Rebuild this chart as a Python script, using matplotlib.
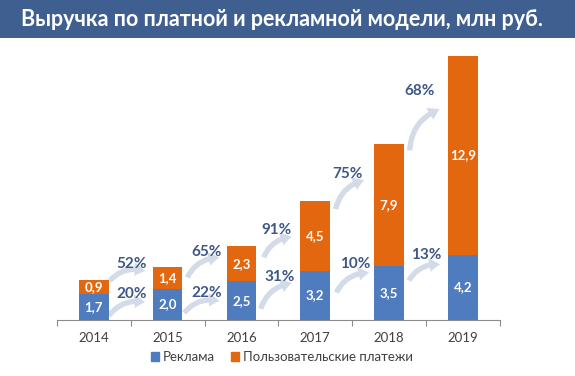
import numpy as np
import matplotlib
matplotlib.use("Agg")
import matplotlib.pyplot as plt
from matplotlib.patches import FancyArrowPatch, Rectangle, Patch

plt.rcParams['font.family'] = ['Lato', 'DejaVu Sans']

# данные
years = ['2014', '2015', '2016', '2017', '2018', '2019']
ads = [1.7, 2.0, 2.5, 3.2, 3.5, 4.2]
users = [0.9, 1.4, 2.3, 4.5, 7.9, 12.9]
ads_labels = ['1,7', '2,0', '2,5', '3,2', '3,5', '4,2']
users_labels = ['0,9', '1,4', '2,3', '4,5', '7,9', '12,9']
growth_users = ['52%', '65%', '91%', '75%', '68%']
growth_ads = ['20%', '22%', '31%', '10%', '13%']

# расположение подписей роста и стрелок (в единицах оси y)
users_lab_x = [0.51, 1.53, 2.48, 3.44, 4.42]
users_lab_y = [3.63, 4.40, 5.83, 9.45, 14.8]
users_arr = [(0.19, 2.40, 0.73, 3.11), (1.25, 2.59, 1.74, 4.02), (2.29, 3.89, 2.72, 5.38),
             (3.27, 7.00, 3.70, 9.07), (4.28, 10.8, 4.72, 13.7)]
ads_lab_x = [0.51, 1.53, 2.52, 3.54, 4.51]
ads_lab_y = [1.68, 1.75, 2.78, 3.63, 4.21]
ads_arr = [(0.18, 0.13, 0.73, 1.10), (1.20, 0.32, 1.74, 1.17), (2.25, 0.55, 2.72, 2.40),
           (3.27, 1.62, 3.77, 3.04), (4.25, 2.40, 4.73, 3.56)]

blue = '#4F7BBF'
orange = '#E2670F'
txt_blue = '#3E5787'
arrow_col = '#D3DBE8'

fig = plt.figure(figsize=(5.75, 3.76), dpi=100)

# заголовок
fig.patches.append(Rectangle((0, 0.899), 1, 0.101, transform=fig.transFigure,
                             facecolor='#3E5F8F', edgecolor='none'))
fig.text(0.036, 0.948, 'Выручка по платной и рекламной модели, млн руб.',
         color='white', fontsize=15.5, fontweight='bold', va='center', ha='left')

ax = fig.add_axes([0.099, 0.149, 0.770, 0.745])
x = np.arange(len(years))
w = 0.4
ax.bar(x, ads, w, color=blue, zorder=3)
ax.bar(x, users, w, bottom=ads, color=orange, zorder=3)

for i in range(len(years)):
    ax.text(x[i], ads[i] / 2, ads_labels[i], ha='center', va='center',
            color='white', fontsize=9.5, fontweight='bold', zorder=4)
    ax.text(x[i], ads[i] + users[i] / 2, users_labels[i], ha='center', va='center',
            color='white', fontsize=9.5, fontweight='bold', zorder=4)

for arrs in (users_arr, ads_arr):
    for (x0, y0, x1, y1) in arrs:
        a = FancyArrowPatch((x0, y0), (x1, y1), connectionstyle='arc3,rad=-0.35',
                            arrowstyle='simple,head_length=0.7,head_width=0.9,tail_width=0.35',
                            mutation_scale=11, color=arrow_col, lw=0, zorder=2)
        ax.add_patch(a)

for i in range(len(growth_users)):
    ax.text(users_lab_x[i], users_lab_y[i], growth_users[i], ha='center', va='center',
            color=txt_blue, fontsize=11, fontweight='bold', zorder=5)
    ax.text(ads_lab_x[i], ads_lab_y[i], growth_ads[i], ha='center', va='center',
            color=txt_blue, fontsize=11, fontweight='bold', zorder=5)

ax.set_xlim(-0.5, 5.5)
ax.set_ylim(0, 18.13)
for s in ['top', 'right', 'left']:
    ax.spines[s].set_visible(False)
ax.spines['bottom'].set_color('#8C8C8C')
ax.set_yticks([])
ax.set_xticks(np.arange(-0.5, 6.0, 1.0), minor=False)
ax.set_xticklabels([])
ax.tick_params(axis='x', which='major', length=4, color='#8C8C8C', direction='out')
ax.set_xticks(x, minor=True)
ax.set_xticklabels(years, minor=True)
ax.tick_params(axis='x', which='minor', length=0, labelsize=9.5, labelcolor='#404040', pad=9)

handles = [Patch(color=blue, label='Реклама'), Patch(color=orange, label='Пользовательские платежи')]
fig.legend(handles=handles, loc='center', bbox_to_anchor=(0.49, 0.05), ncol=2, frameon=False,
           fontsize=9.5, handlelength=0.6, handleheight=0.6, handletextpad=0.3,
           columnspacing=1.2, labelcolor='#404040')

fig.savefig('out.png', dpi=100)
